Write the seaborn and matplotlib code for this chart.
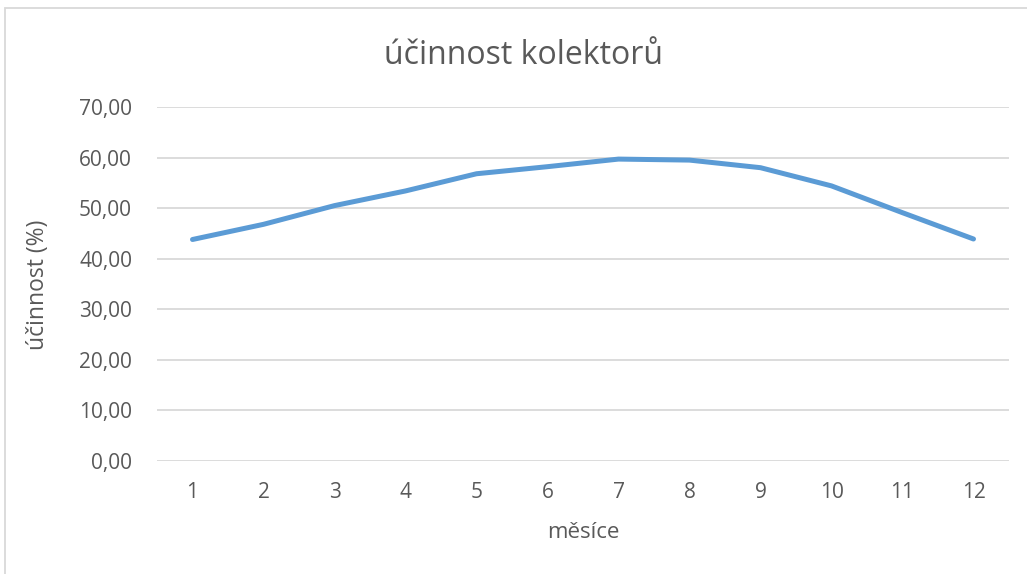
import matplotlib
matplotlib.use("Agg")
import matplotlib.pyplot as plt
from matplotlib.patches import Rectangle
from matplotlib.ticker import FuncFormatter, MultipleLocator
import seaborn as sns
import pandas as pd

# Monthly collector efficiency
mesice = [1, 2, 3, 4, 5, 6, 7, 8, 9, 10, 11, 12]
ucinnost = [43.8, 46.8, 50.5, 53.4, 56.8, 58.2, 59.7, 59.5, 58.0, 54.4, 49.1, 43.9]

titulek = "účinnost kolektorů"
osa_x = "měsíce"
osa_y = "účinnost (%)"

sns.set_theme(style="white")
plt.rcParams["font.family"] = ["Open Sans", "DejaVu Sans"]

TEXT = "#595959"
GRID = "#D9D9D9"
LINE = "#5B9BD5"

df = pd.DataFrame({"mesic": mesice, "ucinnost": ucinnost})

fig = plt.figure(figsize=(10.27, 5.74), dpi=100)
ax = fig.add_axes([157 / 1027, 1 - 461 / 574, (1009 - 157) / 1027, (461 - 107) / 574])

sns.lineplot(data=df, x="mesic", y="ucinnost", ax=ax, color=LINE,
             linewidth=3.6, solid_capstyle="round", solid_joinstyle="round")

ax.set_xlim(0.5, 12.5)
ax.set_ylim(0, 70)
ax.set_xticks(mesice)
ax.set_xticklabels([str(m) for m in mesice])
ax.yaxis.set_major_locator(MultipleLocator(10))
ax.yaxis.set_major_formatter(FuncFormatter(lambda v, _: f"{v:.2f}".replace(".", ",")))

ax.grid(axis="y", color=GRID, linewidth=1.3)
ax.grid(axis="x", visible=False)
for s in ax.spines.values():
    s.set_visible(False)
ax.tick_params(axis="both", length=0, labelsize=15, colors=TEXT)
ax.tick_params(axis="y", pad=18)
ax.tick_params(axis="x", pad=15)
ax.set_xlabel("")
ax.set_ylabel("")

fig.text(523 / 1027, 1 - 55 / 574, titulek, ha="center", va="center",
         fontsize=23, color=TEXT)
fig.text(583 / 1027, 1 - 532 / 574, osa_x, ha="center", va="center",
         fontsize=16, color=TEXT)
fig.text(38 / 1027, 1 - 285 / 574, osa_y, ha="center", va="center",
         rotation=90, fontsize=16.5, color=TEXT)

# chart area frame
fig.patches.append(Rectangle((5 / 1027, -0.05), 1.1, 1 - 8 / 574 + 0.05,
                             transform=fig.transFigure, fill=False,
                             edgecolor=GRID, linewidth=1.3))

fig.savefig("out.png", dpi=100, facecolor="white")
